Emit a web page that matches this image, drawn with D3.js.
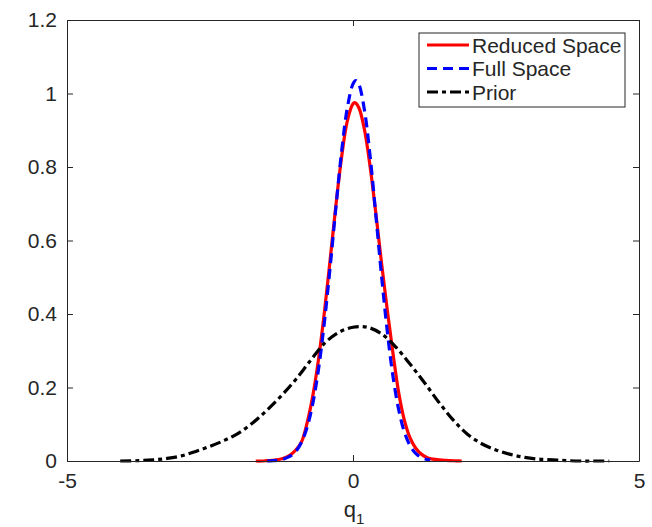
<!DOCTYPE html>
<html>
<head>
<meta charset="utf-8">
<script src="https://cdn.jsdelivr.net/npm/d3@7"></script>
<style>
  body { margin: 0; background: #fff; }
  svg text { font-family: "Liberation Sans", Arial, Helvetica, sans-serif; fill: #262626; }
</style>
</head>
<body>
<div id="chart"></div>
<script>
// values
const redX = [-1.7, -1.6, -1.5, -1.4, -1.3, -1.2, -1.1, -1.0, -0.9, -0.8, -0.7, -0.6, -0.5, -0.4, -0.3, -0.2, -0.1, 0.0, 0.03, 0.1, 0.2, 0.3, 0.4, 0.5, 0.6, 0.7, 0.8, 0.9, 1.0, 1.1, 1.2, 1.3, 1.4, 1.5, 1.6, 1.7, 1.8, 1.9];
const redY = [0.000, 0.000, 0.001, 0.002, 0.004, 0.008, 0.016, 0.030, 0.052, 0.105, 0.180, 0.280, 0.405, 0.547, 0.694, 0.826, 0.925, 0.972, 0.975, 0.962, 0.902, 0.800, 0.673, 0.537, 0.410, 0.292, 0.185, 0.110, 0.062, 0.034, 0.018, 0.009, 0.005, 0.003, 0.002, 0.001, 0.0005, 0.000];

const blueX = [-1.5, -1.4, -1.3, -1.2, -1.1, -1.0, -0.9, -0.8, -0.7, -0.6, -0.5, -0.4, -0.3, -0.2, -0.1, 0.0, 0.05, 0.1, 0.2, 0.3, 0.4, 0.5, 0.6, 0.7, 0.8, 0.9, 1.0, 1.1, 1.2, 1.3, 1.35];
const blueY = [0.000, 0.001, 0.002, 0.006, 0.013, 0.026, 0.051, 0.093, 0.159, 0.253, 0.378, 0.527, 0.688, 0.841, 0.960, 1.026, 1.035, 1.026, 0.955, 0.828, 0.668, 0.502, 0.352, 0.229, 0.139, 0.078, 0.041, 0.020, 0.009, 0.004, 0.002];

const priorX = [-4.07, -3.75, -3.5, -3.25, -3.0, -2.75, -2.5, -2.25, -2.0, -1.75, -1.5, -1.25, -1.0, -0.75, -0.5, -0.25, 0.0, 0.25, 0.5, 0.75, 1.0, 1.25, 1.5, 1.75, 2.0, 2.25, 2.5, 2.75, 3.0, 3.25, 3.5, 3.75, 4.0, 4.25, 4.48];
const priorY = [0.000, 0.001, 0.003, 0.007, 0.014, 0.026, 0.040, 0.056, 0.076, 0.104, 0.139, 0.178, 0.222, 0.272, 0.320, 0.350, 0.364, 0.364, 0.346, 0.310, 0.263, 0.213, 0.160, 0.112, 0.073, 0.047, 0.030, 0.018, 0.010, 0.005, 0.003, 0.001, 0.000, 0.000, 0.000];

const xTicks = [-5, 0, 5];
const yTicks = [0, 0.2, 0.4, 0.6, 0.8, 1, 1.2];
const seriesNames = ['Reduced Space', 'Full Space', 'Prior'];

const W = 652, H = 527;
const box = { left: 67, right: 639, top: 20, bottom: 461 };
const tickLen = 6;
const axisColor = '#262626';

const svg = d3.select('#chart').append('svg')
    .attr('width', W)
    .attr('height', H);

const x = d3.scaleLinear().domain([-5, 5]).range([box.left, box.right]);
const y = d3.scaleLinear().domain([0, 1.2]).range([box.bottom, box.top]);

const series = [
    { name: seriesNames[0], xs: redX, ys: redY, color: '#ff0000', dash: null },
    { name: seriesNames[1], xs: blueX, ys: blueY, color: '#0000ff', dash: '10,6' },
    { name: seriesNames[2], xs: priorX, ys: priorY, color: '#000000', dash: '11,4,4,4' }
];

const line = d3.line()
    .x(d => x(d[0]))
    .y(d => y(d[1]))
    .curve(d3.curveCatmullRom.alpha(0.5));

// curves
series.forEach(s => {
    svg.append('path')
        .datum(s.xs.map((v, i) => [v, s.ys[i]]))
        .attr('d', line)
        .attr('fill', 'none')
        .attr('stroke', s.color)
        .attr('stroke-width', 3.2)
        .attr('stroke-dasharray', s.dash);
});

// axes: inward ticks on all four sides, like a boxed plot
const plainNum = d => String(d); // hyphen minus, like the reference
const xAxisB = d3.axisBottom(x).tickValues(xTicks).tickSizeInner(-tickLen).tickSizeOuter(0).tickPadding(12).tickFormat(plainNum);
const xAxisT = d3.axisTop(x).tickValues(xTicks).tickSizeInner(-tickLen).tickSizeOuter(0).tickFormat('');
const yAxisL = d3.axisLeft(y).tickValues(yTicks).tickSizeInner(-tickLen).tickSizeOuter(0).tickPadding(10).tickFormat(plainNum);
const yAxisR = d3.axisRight(y).tickValues(yTicks).tickSizeInner(-tickLen).tickSizeOuter(0).tickFormat('');

const gB = svg.append('g').attr('transform', `translate(0,${box.bottom})`).call(xAxisB);
const gT = svg.append('g').attr('transform', `translate(0,${box.top})`).call(xAxisT);
const gL = svg.append('g').attr('transform', `translate(${box.left},0)`).call(yAxisL);
const gR = svg.append('g').attr('transform', `translate(${box.right},0)`).call(yAxisR);

[gB, gT, gL, gR].forEach(g => {
    g.select('.domain').attr('stroke', axisColor).attr('stroke-width', 1);
    g.selectAll('.tick line').attr('stroke', axisColor);
    g.selectAll('.tick text')
        .attr('fill', axisColor)
        .style('font-size', '21px')
        .style('font-family', '"Liberation Sans", Arial, Helvetica, sans-serif');
});

// x label: q with subscript 1
const xl = svg.append('text')
    .attr('x', 354)
    .attr('y', 517)
    .attr('text-anchor', 'middle')
    .style('font-size', '22px');
xl.append('tspan').text('q');
xl.append('tspan').attr('dy', 7).style('font-size', '15px').text('1');

// legend
const lg = { left: 419, top: 33, width: 206, height: 74, rowH: 23.5, firstRow: 45 };
const legend = svg.append('g');
legend.append('rect')
    .attr('x', lg.left)
    .attr('y', lg.top)
    .attr('width', lg.width)
    .attr('height', lg.height)
    .attr('fill', '#fff')
    .attr('stroke', axisColor)
    .attr('stroke-width', 1);

series.forEach((s, i) => {
    const ry = lg.firstRow + i * lg.rowH;
    legend.append('line')
        .attr('x1', lg.left + 8)
        .attr('x2', lg.left + 50)
        .attr('y1', ry)
        .attr('y2', ry)
        .attr('stroke', s.color)
        .attr('stroke-width', 3.2)
        .attr('stroke-dasharray', s.dash);
    legend.append('text')
        .attr('x', lg.left + 53)
        .attr('y', ry)
        .attr('dy', '0.36em')
        .style('font-size', '21px')
        .attr('fill', '#000')
        .text(s.name);
});
</script>
</body>
</html>
